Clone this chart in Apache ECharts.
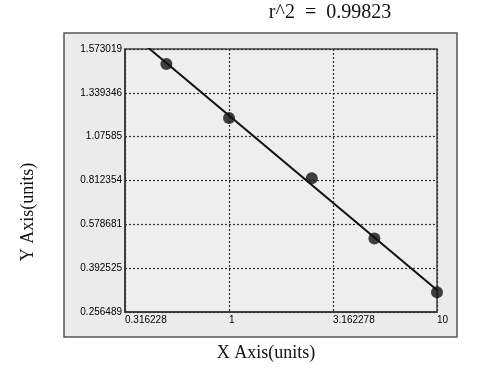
<!DOCTYPE html>
<html>
<head>
<meta charset="utf-8">
<script src="https://cdn.jsdelivr.net/npm/echarts@6/dist/echarts.min.js"></script>
<style>
html,body{margin:0;padding:0;background:#fff;}
#chart{width:488px;height:379px;}
</style>
</head>
<body>
<div id="chart"></div>
<script>
// ---- data ----
var xValues = [0.5, 1, 2.5, 5, 10];
var yValues = [1.498, 1.228, 0.926, 0.625, 0.355];
var xTickLabels = ['0.316228', '1', '3.162278', '10'];
var yTickLabels = ['0.256489', '0.392525', '0.578681', '0.812354', '1.07585', '1.339346', '1.573019'];
var r2Text = 'r^2  =  0.99823';
var xTitle = 'X Axis(units)';
var yTitle = 'Y Axis(units)';

// ---- axis bounds ----
var xMin = Math.sqrt(0.1), xMax = 10;
var yMin = parseFloat(yTickLabels[0]), yMax = parseFloat(yTickLabels[yTickLabels.length - 1]);
var yStep = (yMax - yMin) / (yTickLabels.length - 1);
var yTickValues = yTickLabels.map(function (_, i) { return yMin + i * yStep; });

// ---- least squares fit y = a + b*log10(x) ----
var n = xValues.length, sx = 0, sy = 0;
xValues.forEach(function (x, i) { sx += Math.log10(x); sy += yValues[i]; });
var mx = sx / n, my = sy / n, sxy = 0, sxx = 0;
xValues.forEach(function (x, i) { var dx = Math.log10(x) - mx; sxy += dx * (yValues[i] - my); sxx += dx * dx; });
var b = sxy / sxx, a = my - b * mx;
var fitLine = [xMin, xMax].map(function (x) { return [x, a + b * Math.log10(x)]; });

var points = xValues.map(function (x, i) { return [x, yValues[i]]; });

var chart = echarts.init(document.getElementById('chart'), null, { renderer: 'canvas' });
var labelFont = { fontFamily: 'Liberation Sans, Arial, sans-serif', fontSize: 10, color: '#000' };
var serif = 'Liberation Serif, Times New Roman, serif';

chart.setOption({
  animation: false,
  backgroundColor: '#fff',
  graphic: [
    { type: 'rect', z: -10, shape: { x: 64, y: 33, width: 393, height: 304 },
      style: { fill: '#ebebeb', stroke: '#555', lineWidth: 1.5 } },
    { type: 'text', x: 330, y: 13, style: { text: r2Text, font: '20px ' + serif, fill: '#111',
      textAlign: 'center', textVerticalAlign: 'middle' } },
    { type: 'text', x: 266, y: 353, style: { text: xTitle, font: '18px ' + serif, fill: '#111',
      textAlign: 'center', textVerticalAlign: 'middle' } },
    { type: 'text', x: 28, y: 212, rotation: Math.PI / 2, style: { text: yTitle, font: '18px ' + serif, fill: '#111',
      textAlign: 'center', textVerticalAlign: 'middle' } }
  ],
  grid: { left: 125, top: 49, width: 312, height: 263, show: true, backgroundColor: '#eeeeee',
          borderColor: '#444', borderWidth: 1.5, containLabel: false },
  xAxis: {
    type: 'log', logBase: 10, min: xMin, max: xMax, interval: 0.5,
    axisLine: { show: true, lineStyle: { color: '#333', width: 1.5 } },
    axisTick: { show: false },
    minorTick: { show: false }, minorSplitLine: { show: false },
    axisLabel: Object.assign({ margin: 3, align: 'left', showMinLabel: true, showMaxLabel: true,
      formatter: function (v) {
        var lv = Math.log10(v);
        var idx = Math.round((lv - Math.log10(xMin)) / 0.5);
        return xTickLabels[idx] !== undefined ? xTickLabels[idx] : '';
      } }, labelFont),
    splitLine: { show: true, lineStyle: { color: '#333', type: [2, 2], width: 1.2 } }
  },
  yAxis: {
    type: 'value', min: yMin, max: yMax,
    axisLine: { show: true, lineStyle: { color: '#333', width: 1.5 } },
    axisTick: { show: false, customValues: yTickValues },
    axisLabel: Object.assign({ margin: 3, customValues: yTickValues,
      formatter: function (v) {
        var idx = Math.round((v - yMin) / yStep);
        return yTickLabels[idx] !== undefined ? yTickLabels[idx] : '';
      } }, labelFont),
    splitLine: { show: true, lineStyle: { color: '#333', type: [2, 2], width: 1.2 } }
  },
  series: [
    { type: 'line', data: fitLine, showSymbol: false, symbol: 'none', clip: true,
      lineStyle: { color: '#111', width: 2 }, z: 3 },
    { type: 'scatter', data: points, symbol: 'circle', symbolSize: 12,
      itemStyle: { color: '#111' }, z: 4 }
  ]
});
</script>
</body>
</html>
